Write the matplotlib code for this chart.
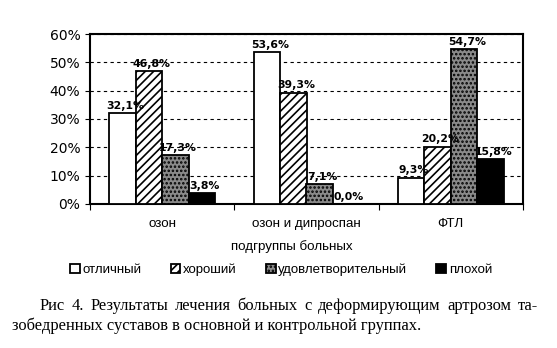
import matplotlib
matplotlib.use("Agg")
import matplotlib.pyplot as plt
import numpy as np

categories = ["озон", "озон и дипроспан", "ФТЛ"]
series = ["отличный", "хороший", "удовлетворительный", "плохой"]
values = {
    "отличный": [32.1, 53.6, 9.3],
    "хороший": [46.8, 39.3, 20.2],
    "удовлетворительный": [17.3, 7.1, 54.7],
    "плохой": [3.8, 0.0, 15.8],
}
yticks = [0, 10, 20, 30, 40, 50, 60]
xlabel = "подгруппы больных"
caption1 = "Рис 4. Результаты лечения больных с деформирующим артрозом та-"
caption2 = "зобедренных суставов в основной и контрольной группах."

styles = [
    dict(facecolor="white", hatch=None),
    dict(facecolor="white", hatch="////"),
    dict(facecolor="#8a8a8a", hatch="...."),
    dict(facecolor="black", hatch=None),
]

W, H = 557, 348
plt.rcParams["hatch.linewidth"] = 1.2
fig = plt.figure(figsize=(W / 100, H / 100), dpi=100)
ax = fig.add_axes([90/W, 1 - 204/H, 433/W, 170/H])

sans = "Liberation Sans"
x = np.arange(len(categories))
w = 0.183
for i, s in enumerate(series):
    pos = x + (i - 1.5) * w
    ax.bar(pos, values[s], width=w, edgecolor="black", linewidth=1.3,
           label=s, zorder=3, **styles[i])
    for xp, v in zip(pos, values[s]):
        ax.text(xp + 0.02, v + 0.8, f"{v:.1f}%".replace(".", ","), ha="center",
                va="bottom", fontsize=7.8, fontweight="bold", zorder=4)

ax.set_xlim(-0.5, 2.5)
ax.set_ylim(0, 60)
ax.set_yticks(yticks)
ax.set_yticklabels([f"{t}%" for t in yticks], fontsize=10)
ax.set_xticks([-0.5, 0.5, 1.5, 2.5])
ax.set_xticklabels([])
ax.tick_params(axis="x", length=4, direction="out")
for c, xi in zip(categories, x):
    ax.text(xi, -0.08, c, transform=ax.get_xaxis_transform(), ha="center",
            va="top", fontsize=9.6, family=sans)
fig.text(292/W, 1 - 240/H, xlabel, ha="center", va="top",
         fontsize=9.6, family=sans)
ax.yaxis.grid(True, linestyle=(0, (3, 3)), color="black", linewidth=0.8, zorder=0)
for sp in ax.spines.values():
    sp.set_linewidth(1.5)

fig.legend(loc="center", bbox_to_anchor=(281/W, 1 - 270/H), ncol=4,
           frameon=False, prop={"family": sans, "size": 9.5},
           handlelength=0.75, handleheight=0.75, handletextpad=0.2,
           columnspacing=2.2)

# caption: first line justified between x=40 and x=538, second line left aligned
serif = "Liberation Serif"
cap_size = 11.9
fig.canvas.draw()
renderer = fig.canvas.get_renderer()
words = caption1.split(" ")
txts = [fig.text(0, 1 - 306/H, wd, family=serif, fontsize=cap_size,
                 ha="left", va="center") for wd in words]
widths = [t.get_window_extent(renderer).width for t in txts]
x0, x1 = 40, 538
gap = (x1 - x0 - sum(widths)) / (len(words) - 1)
cur = x0
for t, wd in zip(txts, widths):
    t.set_x(cur / W)
    cur += wd + gap
fig.text(12/W, 1 - 326/H, caption2, family=serif, fontsize=cap_size,
         ha="left", va="center")

fig.savefig("out.png", dpi=100)
